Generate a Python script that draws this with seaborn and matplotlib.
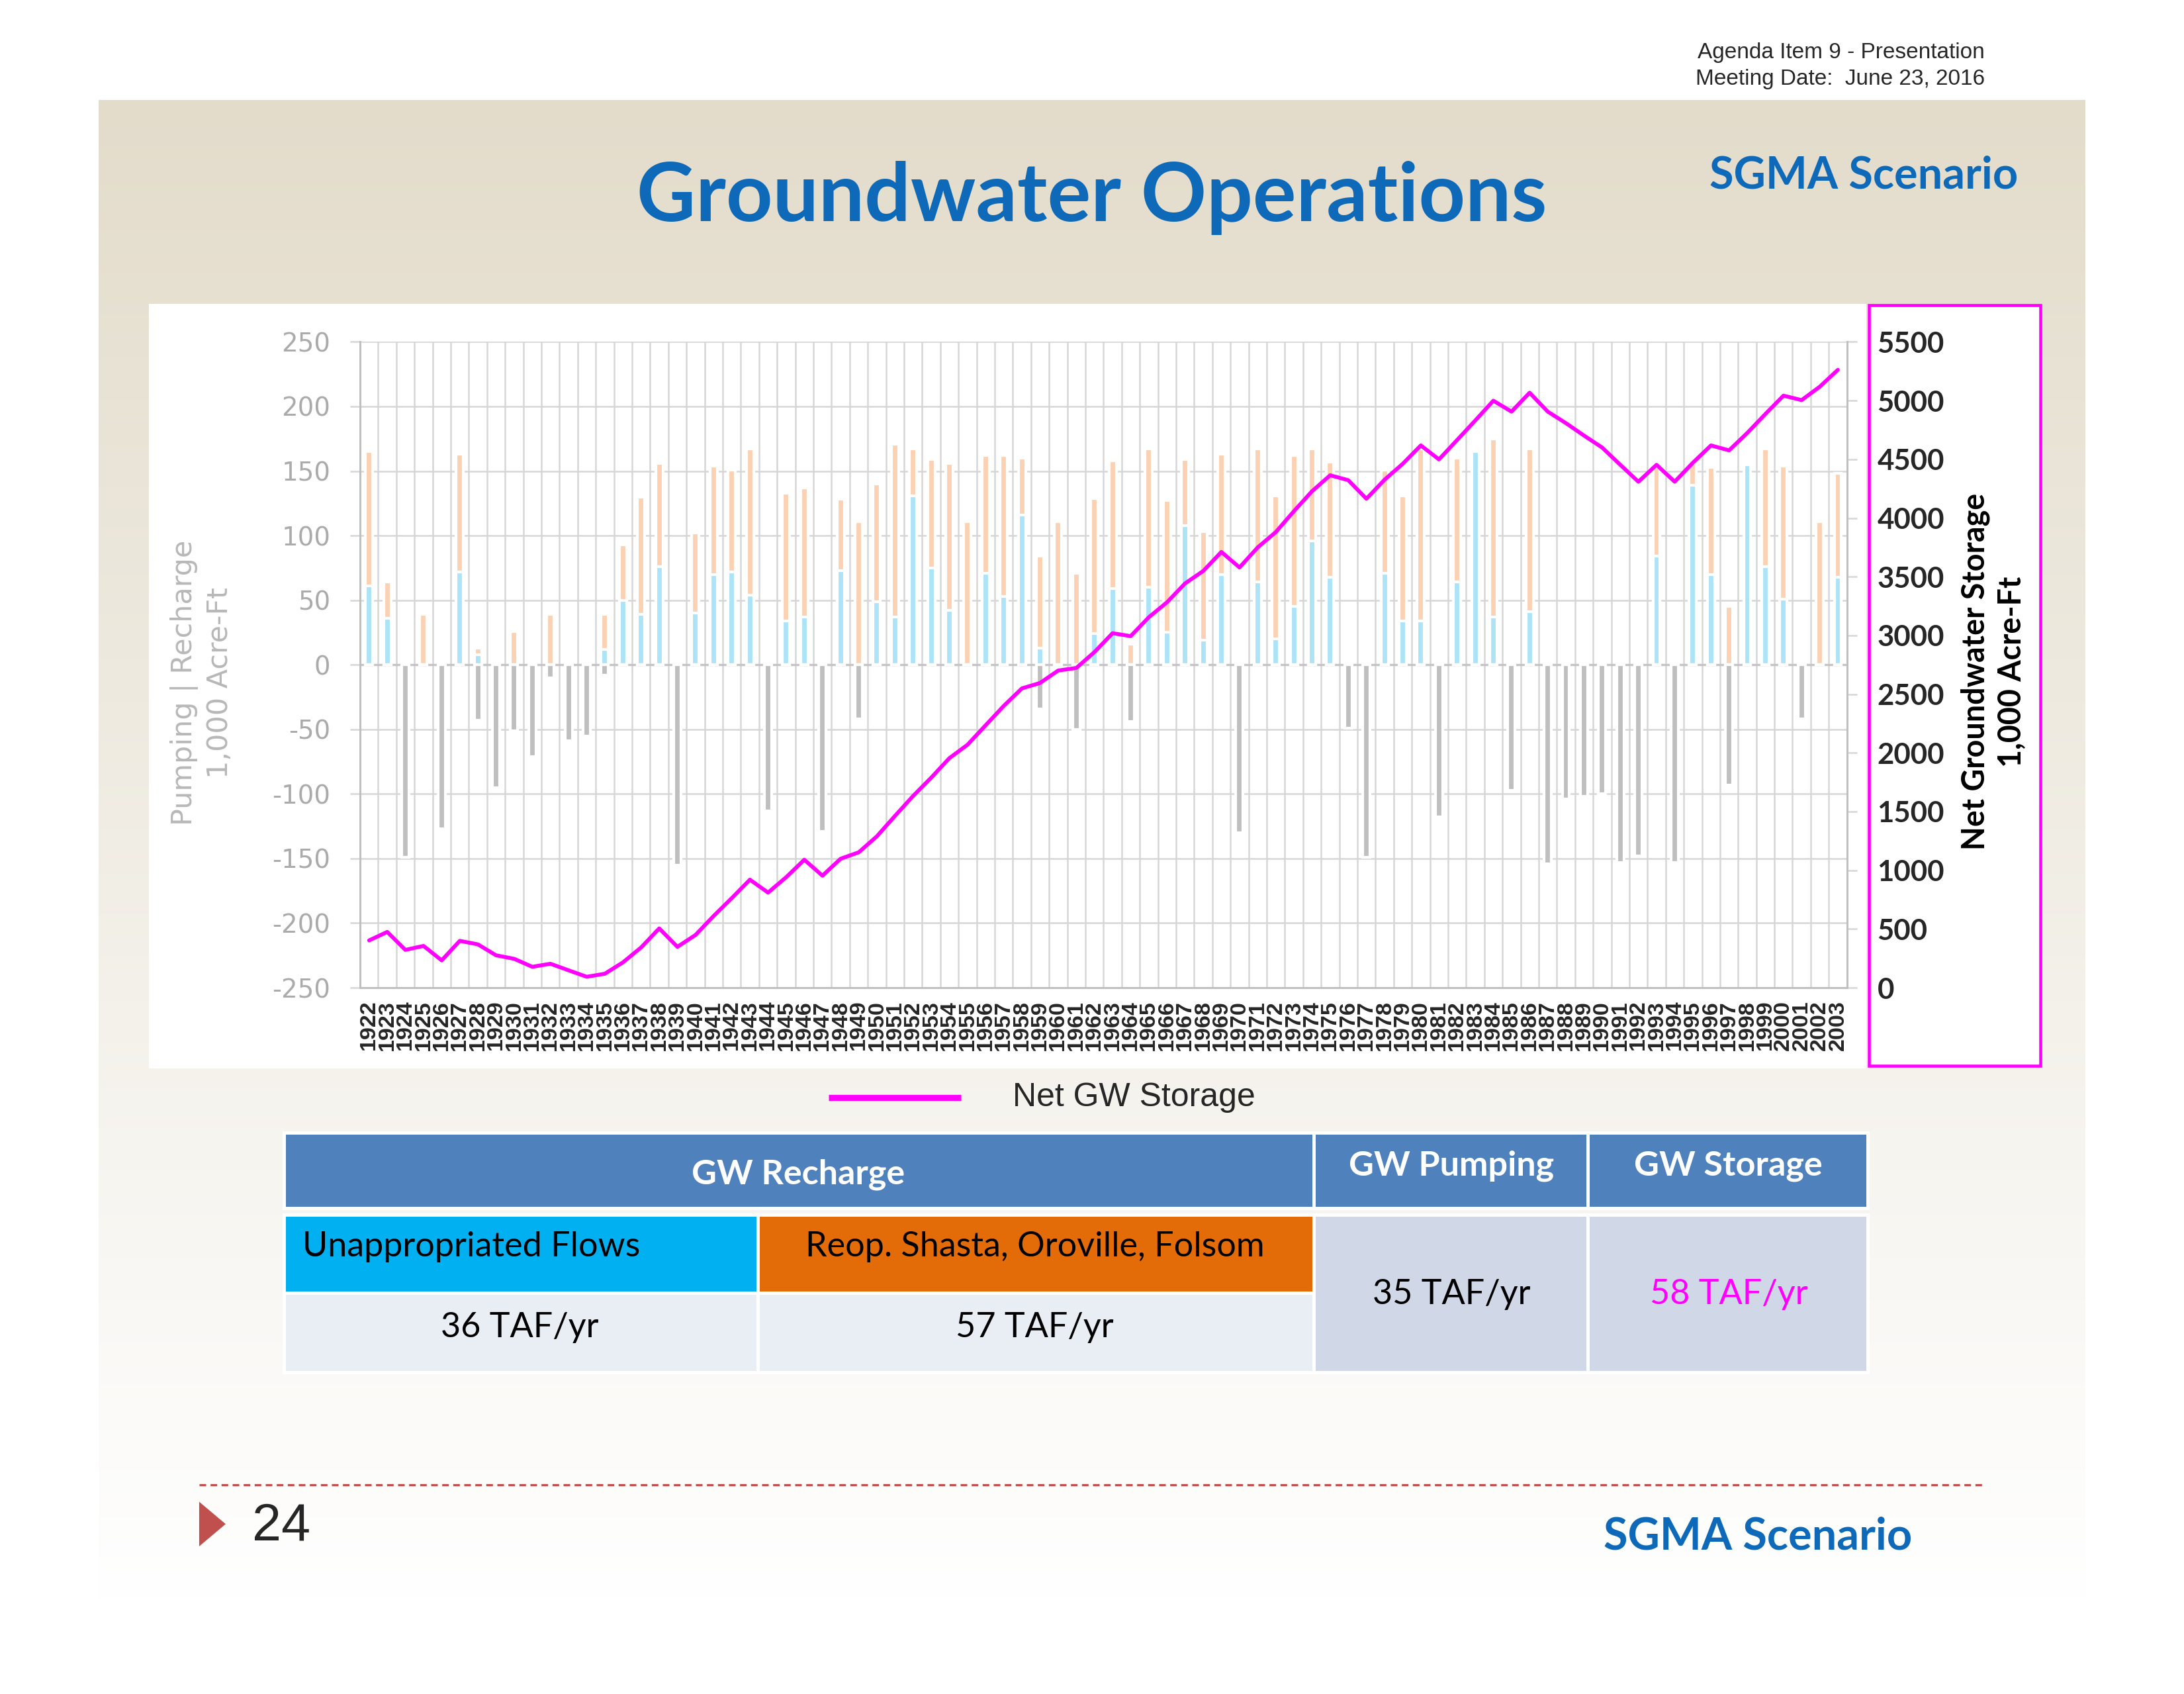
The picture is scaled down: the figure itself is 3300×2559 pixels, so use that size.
import numpy as np
import pandas as pd
import matplotlib
matplotlib.use("Agg")
import matplotlib.pyplot as plt
import seaborn as sns
from matplotlib.patches import Rectangle, Polygon

# Data (1,000 acre-ft)
years = list(range(1922, 2004))

unappropriated = [61, 36, 0, 0, 0, 72, 8, 0, 0, 0, 0, 0, 0, 12, 50, 39, 76, 0, 40, 70,
                  72, 54, 0, 34, 37, 0, 73, 0, 49, 37, 131, 75, 42, 0, 71, 53, 116, 13, 0, 0,
                  24, 59, 0, 60, 25, 108, 19, 70, 0, 64, 20, 45, 96, 68, 0, 0, 71, 34, 34, 0,
                  64, 165, 37, 0, 41, 0, 0, 0, 0, 0, 0, 84, 0, 139, 70, 0, 155, 76, 51, 0,
                  0, 68]

reoperation = [104, 28, 0, 39, 0, 91, 5, 0, 26, 0, 39, 0, 0, 27, 43, 91, 80, 0, 62, 84,
               79, 113, 0, 99, 100, 0, 55, 111, 91, 134, 36, 84, 114, 111, 91, 109, 44, 71, 111, 71,
               105, 99, 16, 107, 102, 51, 84, 93, 0, 103, 111, 117, 71, 89, 0, 0, 80, 97, 133, 0,
               96, 0, 138, 0, 126, 0, 0, 0, 0, 0, 0, 69, 0, 17, 83, 45, 0, 91, 103, 0,
               111, 80]

pumping = [0, 0, -149, 0, -127, 0, -43, -95, -51, -71, -10, -59, -55, -8, 0, 0, 0, -155, 0, 0,
           0, 0, -113, 0, 0, -129, 0, -42, 0, 0, 0, 0, 0, 0, 0, 0, 0, -34, 0, -50,
           0, 0, -44, 0, 0, 0, 0, 0, -130, 0, 0, 0, 0, 0, -49, -149, 0, 0, 0, -118,
           0, 0, 0, -97, 0, -154, -104, -102, -100, -153, -148, 0, -153, 0, 0, -93, 0, 0, 0, -42,
           0, 0]

net_storage = [403, 475, 322, 356, 233, 399, 369, 276, 246, 178, 204, 148, 93, 119, 216, 343, 505, 348, 449, 611,
               763, 920, 810, 941, 1090, 954, 1098, 1153, 1289, 1463, 1633, 1789, 1955, 2069, 2235, 2400, 2549, 2595, 2701, 2723,
               2858, 3019, 2994, 3155, 3282, 3443, 3549, 3711, 3579, 3749, 3880, 4058, 4228, 4364, 4322, 4164, 4326, 4461, 4618, 4499,
               4664, 4830, 4999, 4906, 5067, 4906, 4808, 4702, 4600, 4453, 4309, 4453, 4309, 4470, 4618, 4576, 4724, 4885, 5042, 5004,
               5118, 5262]

recharge_sources = ["Unappropriated Flows", "Reop. Shasta, Oroville, Folsom"]
recharge_rates = ["36 TAF/yr", "57 TAF/yr"]
pumping_rate = "35 TAF/yr"
storage_rate = "58 TAF/yr"

df = pd.DataFrame({
    "year": [str(y) for y in years],
    "unapp": unappropriated,
    "reop": reoperation,
    "pump": pumping,
    "storage": net_storage,
})
df["recharge"] = df["unapp"] + df["reop"]

BLUE_BAR = "#ace3f7"
ORANGE_BAR = "#fad2b3"
GRAY_BAR = "#bfbfbf"
MAGENTA = "#ff00ff"
TITLE_BLUE = "#0e6ab8"
GRID = "#d6d6d6"

sns.set_style("white")
plt.rcParams["font.family"] = ["Lato", "DejaVu Sans"]
plt.rcParams["axes.unicode_minus"] = False

W, H = 1568.0, 1216.0
fig = plt.figure(figsize=(11, 8.53), dpi=300)

# slide background, coordinates in slide pixels
bg = fig.add_axes([0, 0, 1, 1])
bg.set_xlim(0, W)
bg.set_ylim(H, 0)
bg.axis("off")

beige = np.array([227, 220, 203]) / 255.0
t = np.linspace(0, 1, 400)[:, None]
grad = beige * (1 - t) + 1.0 * t
bg.imshow(grad[:, None, :], extent=(71, 1497, 1150, 72), aspect="auto", zorder=0)

bg.text(1425, 38, "Agenda Item 9 - Presentation", ha="right", va="center",
        fontsize=8, family="Liberation Sans")
bg.text(1425, 57, "Meeting Date:  June 23, 2016", ha="right", va="center",
        fontsize=8, family="Liberation Sans")
bg.text(784, 142, "Groundwater Operations", ha="center", va="center",
        fontsize=29.5, fontweight="bold", color=TITLE_BLUE)
bg.text(1338, 126, "SGMA Scenario", ha="center", va="center",
        fontsize=16, fontweight="bold", color=TITLE_BLUE)

# chart panel and magenta box around the secondary axis
bg.add_patch(Rectangle((107, 218), 1233, 549, facecolor="white", edgecolor="none", zorder=1))
bg.add_patch(Rectangle((1342, 219), 123, 546, facecolor="white", edgecolor=MAGENTA, lw=1.1, zorder=1))

bg.text(145, 490, "Pumping | Recharge\n1,000 Acre-Ft", rotation=90, ha="center", va="center",
        fontsize=10.3, color="#b8b8b8", family="DejaVu Sans", linespacing=1.35, zorder=2)
bg.text(1431, 482, "Net Groundwater Storage\n1,000 Acre-Ft", rotation=90, ha="center", va="center",
        fontsize=11.2, fontweight="bold", color="black", linespacing=1.3, zorder=2)

# legend
bg.plot([595, 690], [788, 788], color=MAGENTA, lw=2.2, solid_capstyle="butt", zorder=2)
bg.text(727, 788, "Net GW Storage", ha="left", va="center", fontsize=12, family="Liberation Sans")

# table
def cell(x0, y0, x1, y1, color):
    bg.add_patch(Rectangle((x0, y0), x1 - x0, y1 - y0, facecolor=color,
                           edgecolor="white", lw=1.2, zorder=2))

HEAD = "#4f81bd"
cell(204, 813, 943, 867, HEAD)
cell(943, 813, 1140, 867, HEAD)
cell(1140, 813, 1341, 867, HEAD)
cell(204, 872, 544, 928, "#00b0f0")
cell(544, 872, 943, 928, "#e36c09")
cell(204, 928, 544, 985, "#e9edf4")
cell(544, 928, 943, 985, "#e9edf4")
cell(943, 872, 1140, 985, "#d0d8e8")
cell(1140, 872, 1341, 985, "#d0d8e8")

tkw = dict(fontsize=12.5, va="center", zorder=3)
bg.text(573, 843, "GW Recharge", ha="center", color="white", fontweight="bold", **tkw)
bg.text(1042, 837, "GW Pumping", ha="center", color="white", fontweight="bold", **tkw)
bg.text(1241, 837, "GW Storage", ha="center", color="white", fontweight="bold", **tkw)
bg.text(217, 895, recharge_sources[0], ha="left", color="black", **tkw)
bg.text(743, 895, recharge_sources[1], ha="center", color="black", **tkw)
bg.text(373, 953, recharge_rates[0], ha="center", color="black", **tkw)
bg.text(743, 953, recharge_rates[1], ha="center", color="black", **tkw)
bg.text(1042, 929, pumping_rate, ha="center", color="black", **tkw)
bg.text(1241, 929, storage_rate, ha="center", color=MAGENTA, **tkw)

# footer
bg.plot([143, 1425], [1066, 1066], color="#c0504d", lw=0.8, dashes=(3, 2), zorder=2)
bg.add_patch(Polygon([(143, 1078), (162, 1094), (143, 1110)], closed=True,
                     facecolor="#c0504d", edgecolor="none", zorder=2))
bg.text(181, 1096, "24", ha="left", va="center", fontsize=19, family="Liberation Sans")
bg.text(1262, 1103, "SGMA Scenario", ha="center", va="center",
        fontsize=16, fontweight="bold", color=TITLE_BLUE)

# main chart
left, right, top, bottom = 258.5, 1326, 245.4, 709
ax = fig.add_axes([left / W, 1 - bottom / H, (right - left) / W, (bottom - top) / H])
ax.set_facecolor("none")

bar_kw = dict(x="year", width=0.4, saturation=1, errorbar=None, ax=ax, zorder=3)
sns.barplot(data=df, y="recharge", color=ORANGE_BAR, **bar_kw)
sns.barplot(data=df, y="unapp", color=BLUE_BAR, **bar_kw)
sns.barplot(data=df, y="pump", color=GRAY_BAR, **bar_kw)

ax.set_xlim(-0.5, len(years) - 0.5)
ax.set_ylim(-250, 250)
ax.set_yticks(range(-250, 251, 50))
ax.set_xticks(np.arange(-0.5, len(years), 1), minor=True)
ax.grid(axis="y", which="major", color=GRID, lw=0.6)
ax.grid(axis="x", which="minor", color=GRID, lw=0.6)
ax.set_axisbelow(True)
ax.axhline(0, color="#c4c4c4", lw=0.8, zorder=2)
ax.set_xlabel("")
ax.set_ylabel("")

ax.tick_params(axis="y", length=3.7, width=0.6, color=GRID, labelcolor="#ababab",
               labelsize=9.3, pad=7)
ax.tick_params(axis="x", which="major", length=3, width=0.6, color="#bfbfbf",
               labelrotation=90, pad=1.5)
ax.tick_params(axis="x", which="minor", length=0)
for lab in ax.get_yticklabels():
    lab.set_fontfamily("DejaVu Sans")
for lab in ax.get_xticklabels():
    lab.set_fontfamily("Liberation Sans")
    lab.set_fontweight("bold")
    lab.set_fontsize(8.2)

for s in ["left", "bottom"]:
    ax.spines[s].set_color("#bfbfbf")
    ax.spines[s].set_linewidth(0.7)
ax.spines["top"].set_visible(False)
ax.spines["right"].set_visible(False)

ax2 = ax.twinx()
sns.lineplot(x=np.arange(len(years)), y=df["storage"].values, ax=ax2, color=MAGENTA, lw=1.4, zorder=5)
ax2.set_ylim(0, 5500)
ax2.set_yticks(range(0, 5501, 500))
ax2.tick_params(axis="y", length=3.5, width=0.6, color=GRID, labelsize=10.5, pad=7.5)
for lab in ax2.get_yticklabels():
    lab.set_fontweight("bold")
ax2.set_ylabel("")
for s in ["left", "top", "bottom"]:
    ax2.spines[s].set_visible(False)
ax2.spines["right"].set_color("#bfbfbf")
ax2.spines["right"].set_linewidth(0.7)
ax2.grid(False)

fig.savefig("out.png", dpi=300)
